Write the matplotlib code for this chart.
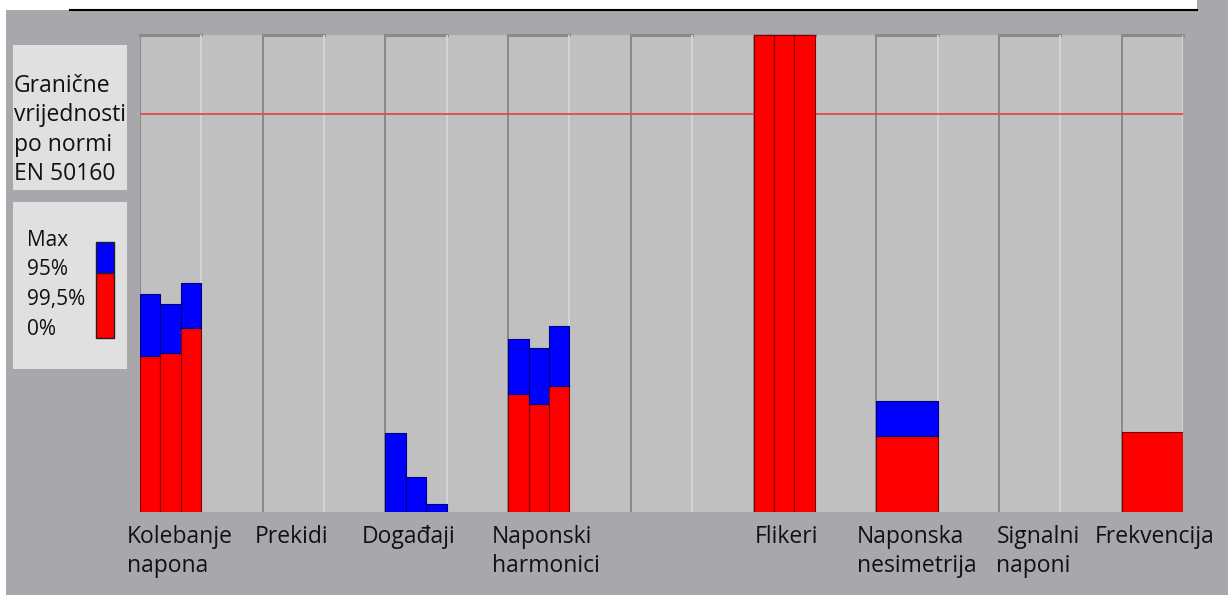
import matplotlib.pyplot as plt
from matplotlib.patches import Rectangle
from matplotlib.lines import Line2D
import matplotlib.transforms as mtransforms

plt.rcParams['font.family'] = ['Open Sans', 'DejaVu Sans']

# categories (one group = two columns, last group only one column)
categories = ['Kolebanje\nnapona', 'Prekidi', 'Događaji', 'Naponski\nharmonici', '',
              'Flikeri', 'Naponska\nnesimetrija', 'Signalni\nnaponi', 'Frekvencija']
label_x = [-0.21, 1.87, 3.62, 5.73, 8.0, 10.02, 11.68, 13.96, 15.56]

# 99,5% values (red) and max values (blue top), threshold = 100
red_vals = [[39.1, 39.9, 46.2], [], [0, 0, 0], [29.5, 27.0, 31.6], [],
            [120, 120, 120], [18.9], [], [19.9]]
max_vals = [[54.8, 52.3, 57.6], [], [19.7, 8.8, 1.8], [43.4, 41.2, 46.7], [],
            [120, 120, 120], [27.8], [], [19.9]]
limit = 100
ymax = 120
n_cols = 17

legend1_lines = ['Granične', 'vrijednosti', 'po normi', 'EN 50160']
legend2_lines = ['Max', '95%', '99,5%', '0%']

W, H = 1228, 595
bg = '#a8a7ac'
fig = plt.figure(figsize=(W / 100, H / 100), dpi=100, facecolor=bg)

def fx(px):
    return px / W

def fy(py):
    return 1 - py / H

# white strip and black line at top
fig.patches.append(Rectangle((0, fy(10)), fx(1197), 10 / H, transform=fig.transFigure,
                             facecolor='white', edgecolor='none', zorder=0))
fig.patches.append(Rectangle((0, 0), fx(6), 1, transform=fig.transFigure,
                             facecolor='white', edgecolor='none', zorder=0))
fig.lines.append(Line2D([fx(70), fx(1197)], [fy(10), fy(10)],
                        transform=fig.transFigure, color='black', lw=1.5))

ax = fig.add_axes([fx(140), fy(511.5), fx(1043), 476.5 / H])
ax.set_facecolor('#c0c0c0')
ax.set_xlim(0, n_cols)
ax.set_ylim(0, ymax)
for s in ax.spines.values():
    s.set_visible(False)
ax.set_xticks([])
ax.set_yticks([])

# column separators
for c in range(n_cols + 1):
    if c % 2 == 0 and c < n_cols:
        ax.axvline(c, color='#808080', lw=1.2, zorder=1)
        ax.plot([c, c + 1], [ymax, ymax], color='#8a8a8a', lw=2.2, zorder=1, clip_on=False)
    else:
        ax.axvline(c, color='#d6d6d6', lw=1.3, zorder=1)

# limit line
ax.axhline(limit, color='#e24a4a', lw=1.3, zorder=2)

# bars
for g, (reds, maxs) in enumerate(zip(red_vals, max_vals)):
    n = len(reds)
    if n == 0:
        continue
    w = 1.0 / n
    for i in range(n):
        x = 2 * g + (i + 0.5) * w
        if reds[i] > 0:
            ax.bar(x, reds[i], width=w, color='#ff0000', edgecolor='#7a0000', lw=0.8, zorder=3)
        if maxs[i] > reds[i]:
            ax.bar(x, maxs[i] - reds[i], bottom=reds[i], width=w, color='#0000ff',
                   edgecolor='#00007a', lw=0.8, zorder=3)

# category labels
trans = mtransforms.blended_transform_factory(ax.transData, fig.transFigure)
for lx, lab in zip(label_x, categories):
    for k, line in enumerate(lab.split('\n')):
        if line:
            ax.text(lx, fy(537 + 29 * k), line, transform=trans, ha='left', va='center',
                    fontsize=16.5, color='#111111')

# legend box 1: limit line
fig.patches.append(Rectangle((fx(13), fy(190)), fx(114), 145 / H,
                             transform=fig.transFigure, facecolor='#e0e0e0', edgecolor='none'))
for k, line in enumerate(legend1_lines):
    fig.text(fx(14), fy(86 + 29.3 * k), line, ha='left', va='center',
             fontsize=16.5, color='#111111')

# legend box 2: colour key
fig.patches.append(Rectangle((fx(13), fy(369)), fx(114), 167 / H,
                             transform=fig.transFigure, facecolor='#e0e0e0', edgecolor='none'))
for k, line in enumerate(legend2_lines):
    fig.text(fx(27), fy(240 + 29.7 * k), line, ha='left', va='center',
             fontsize=15, color='#111111')
fig.patches.append(Rectangle((fx(96), fy(273)), fx(18), 31 / H,
                             transform=fig.transFigure, facecolor='#0000ff', edgecolor='#202020', lw=1))
fig.patches.append(Rectangle((fx(96), fy(338)), fx(18), 65 / H,
                             transform=fig.transFigure, facecolor='#ff0000', edgecolor='#202020', lw=1))

fig.savefig('out.png', dpi=100, facecolor=bg)
